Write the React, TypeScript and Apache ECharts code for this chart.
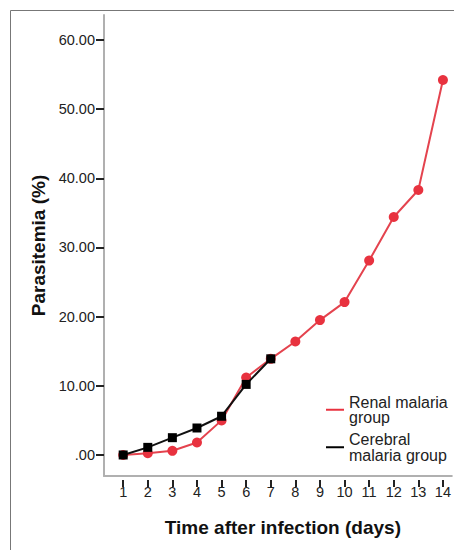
import React, { useEffect, useRef } from "react";
import * as echarts from "echarts";

const days = [1, 2, 3, 4, 5, 6, 7, 8, 9, 10, 11, 12, 13, 14];
const renalValues = [0, 0.25, 0.6, 1.8, 5.0, 11.2, 13.9, 16.4, 19.5, 22.1, 28.1, 34.4, 38.3, 54.2];
const cerebralDays = [1, 2, 3, 4, 5, 6, 7];
const cerebralValues = [0, 1.1, 2.5, 3.9, 5.6, 10.2, 13.9];
const yTicks = [0, 10, 20, 30, 40, 50, 60];
const seriesNames = ["Renal malaria\ngroup", "Cerebral\nmalaria group"];

const FONT = "'Liberation Sans', Arial, sans-serif";

export default function App() {
  const ref = useRef<HTMLDivElement>(null);
  useEffect(() => {
    if (!ref.current) return;
    const chart = echarts.init(ref.current, undefined, { renderer: "svg" });
    const xCommon = {
      type: "value" as const,
      min: 0.22,
      max: 14.36,
      splitLine: { show: false },
    };
    chart.setOption({
      animation: false,
      backgroundColor: "#fff",
      textStyle: { fontFamily: FONT },
      grid: { left: 104, right: 0, top: 15, bottom: 74, containLabel: false },
      graphic: [
        {
          type: "rect",
          shape: { x: 10.5, y: 10.5, width: 470, height: 570 },
          style: { fill: "none", stroke: "#777", lineWidth: 1 },
          silent: true,
        },
      ],
      legend: {
        orient: "vertical",
        left: 326,
        top: 394,
        padding: 0,
        itemGap: 6,
        itemWidth: 18,
        itemHeight: 2,
        icon: "rect",
        textStyle: { fontSize: 16, lineHeight: 15.5, color: "#222", fontFamily: FONT },
        data: seriesNames,
      },
      xAxis: [
        {
          ...xCommon,
          position: "bottom",
          axisLine: { show: true, onZero: false, lineStyle: { color: "#b0b0b0", width: 2 } },
          axisTick: { show: false },
          axisLabel: { show: false },
          name: "Time after infection (days)",
          nameLocation: "middle",
          nameGap: 42,
          nameTextStyle: { fontSize: 19, fontWeight: "bold", color: "#111", fontFamily: FONT, padding: [0, 0, 0, 10] },
        },
        {
          ...xCommon,
          position: "bottom",
          offset: 4,
          axisLine: { show: false, onZero: false },
          axisTick: {
            show: true,
            length: 7,
            lineStyle: { color: "#222", width: 2 },
            customValues: days,
          },
          axisLabel: {
            show: true,
            margin: 4,
            fontSize: 14.5,
            color: "#222",
            fontFamily: FONT,
            customValues: days,
            formatter: (v: number) => String(v),
          },
        },
      ],
      yAxis: {
        type: "value",
        min: -3.04,
        max: 63.6,
        splitLine: { show: false },
        axisLine: { show: true, onZero: false, lineStyle: { color: "#b0b0b0", width: 2 } },
        axisTick: {
          show: true,
          length: 8,
          lineStyle: { color: "#222", width: 2 },
          customValues: yTicks,
        },
        axisLabel: {
          show: true,
          margin: 9,
          fontSize: 14.5,
          color: "#222",
          fontFamily: FONT,
          customValues: yTicks,
          formatter: (v: number) => (v === 0 ? ".00" : v.toFixed(2)),
        },
        name: "Parasitemia (%)",
        nameLocation: "middle",
        nameRotate: 90,
        nameGap: 56,
        nameTextStyle: { fontSize: 19, fontWeight: "bold", color: "#111", fontFamily: FONT },
      },
      series: [
        {
          name: seriesNames[0],
          type: "line",
          xAxisIndex: 0,
          data: days.map((d, i) => [d, renalValues[i]]),
          symbol: "circle",
          symbolSize: 10,
          itemStyle: { color: "#e8323f" },
          lineStyle: { color: "#e4434e", width: 2 },
          z: 2,
        },
        {
          name: seriesNames[1],
          type: "line",
          xAxisIndex: 0,
          data: cerebralDays.map((d, i) => [d, cerebralValues[i]]),
          symbol: "rect",
          symbolSize: 9,
          itemStyle: { color: "#000" },
          lineStyle: { color: "#111", width: 2 },
          z: 3,
        },
      ],
    });
    return () => chart.dispose();
  }, []);
  return (
    <div
      ref={ref}
      style={{ position: "fixed", left: 0, top: 0, width: 454, height: 550 }}
    />
  );
}
